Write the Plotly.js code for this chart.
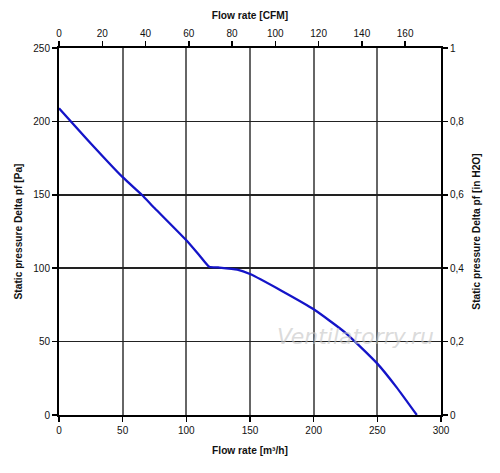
<!DOCTYPE html>
<html>
<head>
<meta charset="utf-8">
<script src="https://cdn.plot.ly/plotly-3.0.1.min.js"></script>
<style>html,body{margin:0;padding:0;background:#fff;}#chart{width:500px;height:473px;}</style>
</head>
<body>
<div id="chart"></div>
<script>
// Flow rate [m3/h]
const flowM3h = [0, 25, 50, 65, 75, 100, 110, 118, 125, 140, 150, 175, 200, 225, 250, 265, 281];
// Static pressure [Pa]
const pressurePa = [209, 185, 162, 150, 141, 119, 109, 101, 100.5, 99, 96, 84.5, 72, 56, 35, 19, 0];

const xTicks = [0, 50, 100, 150, 200, 250, 300];
const yTicks = [0, 50, 100, 150, 200, 250];
const cfmTicks = [0, 20, 40, 60, 80, 100, 120, 140, 160];
const inH2OTicks = [0, 0.2, 0.4, 0.6, 0.8, 1];
const inH2OLabels = ['0', '0,2', '0,4', '0,6', '0,8', '1'];

const M3H_PER_CFM = 1.699;
const PA_PER_INH2O = 250;
const font = {family: 'Liberation Sans, Arial, sans-serif', size: 10, color: '#111'};
const titleFont = {family: 'Liberation Sans, Arial, sans-serif', size: 10.2, color: '#111', weight: 'bold'};

const data = [{
  x: flowM3h, y: pressurePa, type: 'scatter', mode: 'lines',
  line: {color: '#1414c8', width: 2.3, shape: 'spline', smoothing: 0.5},
  hoverinfo: 'none'
}, {
  // same curve in secondary units (invisible) so the top and right axes are drawn
  x: flowM3h.map(v => v / M3H_PER_CFM), y: pressurePa.map(p => p / PA_PER_INH2O),
  xaxis: 'x2', yaxis: 'y2', type: 'scatter', mode: 'lines',
  line: {color: 'rgba(0,0,0,0)', width: 0}, hoverinfo: 'none'
}];

const layout = {
  width: 500, height: 473,
  margin: {l: 59, r: 59, t: 48, b: 58},
  paper_bgcolor: '#fff', plot_bgcolor: '#fff',
  showlegend: false,
  font: font,
  xaxis: {
    range: [0, 300], tickvals: xTicks, ticks: 'outside', ticklen: 5, tickwidth: 1.5, tickcolor: '#000',
    showgrid: true, gridcolor: '#666', gridwidth: 2,
    showline: true, linecolor: '#000', linewidth: 2, mirror: false,
    zeroline: false, tickfont: font,
    title: {text: 'Flow rate [m³/h]', font: titleFont, standoff: 12}
  },
  xaxis2: {
    overlaying: 'x', side: 'top', anchor: 'y',
    range: [0, 300 / M3H_PER_CFM], tickvals: cfmTicks, ticks: 'outside', ticklen: 5, tickwidth: 1.5, tickcolor: '#000',
    showgrid: false, showline: true, linecolor: '#000', linewidth: 2, zeroline: false, tickfont: font,
    title: {text: 'Flow rate [CFM]', font: titleFont, standoff: 6}
  },
  yaxis: {
    range: [0, 250], tickvals: yTicks, ticks: 'outside', ticklen: 5, tickwidth: 1.5, tickcolor: '#000',
    showgrid: true, gridcolor: '#222', gridwidth: 1.5,
    showline: true, linecolor: '#000', linewidth: 2, zeroline: false, tickfont: font,
    title: {text: 'Static pressure Delta pf [Pa]', font: titleFont, standoff: 9}
  },
  yaxis2: {
    overlaying: 'y', side: 'right', anchor: 'x',
    range: [0, 1], tickvals: inH2OTicks, ticktext: inH2OLabels, ticks: 'outside', ticklen: 5, tickwidth: 1.5, tickcolor: '#000',
    showgrid: false, showline: true, linecolor: '#000', linewidth: 2, zeroline: false, tickfont: font,
    title: {text: 'Static pressure Delta pf [in H2O]', font: titleFont, standoff: 10}
  },
  annotations: [{
    text: 'Ventilatorry.ru', xref: 'paper', yref: 'paper', x: 0.777, y: 0.215,
    xanchor: 'center', yanchor: 'middle',
    showarrow: false, font: {family: 'DejaVu Sans, sans-serif', size: 22, color: 'rgba(195,195,195,0.6)', style: 'italic'}
  }]
};

Plotly.newPlot('chart', data, layout, {displayModeBar: false, staticPlot: true});
</script>
</body>
</html>
